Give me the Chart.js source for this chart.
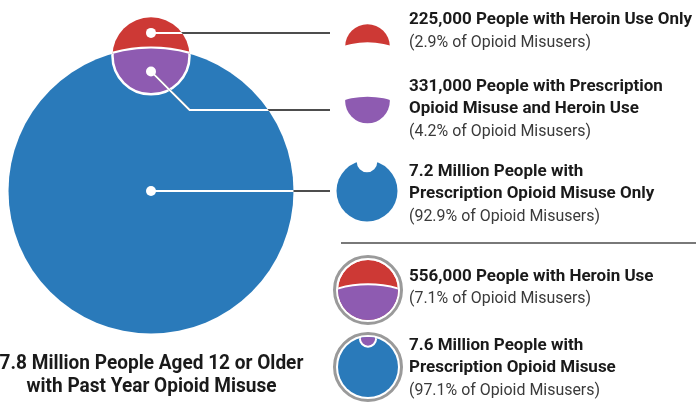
<!DOCTYPE html>
<html>
<head>
<meta charset="utf-8">
<script src="https://cdn.jsdelivr.net/npm/chart.js@4.4.1/dist/chart.umd.min.js"></script>
<style>
  html, body { margin: 0; padding: 0; background: #fff; }
  #wrap { position: relative; width: 696px; height: 403px; }
</style>
</head>
<body>
<div id="wrap"><canvas id="venn"></canvas></div>
<script>
// shares of past-year opioid misusers, in percent
const groupNames = ['Heroin Use Only', 'Prescription Opioid Misuse and Heroin Use', 'Prescription Opioid Misuse Only'];
const groupShares = [2.9, 4.2, 92.9];
const groupLabels = [
  ['225,000 People with Heroin Use Only'],
  ['331,000 People with Prescription', 'Opioid Misuse and Heroin Use'],
  ['7.2 Million People with', 'Prescription Opioid Misuse Only']
];
const totalShares = [7.1, 97.1];
const totalLabels = [
  ['556,000 People with Heroin Use'],
  ['7.6 Million People with', 'Prescription Opioid Misuse']
];
const overallLabel = ['7.8 Million People Aged 12 or Older', 'with Past Year Opioid Misuse'];

const RED = '#cd3935', PURPLE = '#8e5bb1', BLUE = '#2a7aba';
const LINE = '#4d4d4d', RING = '#9a9a9a';
const FONT = 'Roboto, "Liberation Sans", sans-serif';

// circle area follows the share, so radius = sqrt(share) in data units
const rBig = Math.sqrt(totalShares[1]);
const rSmall = Math.sqrt(totalShares[0]);

function overlapArea(d, R, r) {
  const a = r * r * Math.acos((d * d + r * r - R * R) / (2 * d * r));
  const b = R * R * Math.acos((d * d + R * R - r * r) / (2 * d * R));
  const c = 0.5 * Math.sqrt((-d + r + R) * (d + r - R) * (d - r + R) * (d + r + R));
  return a + b - c;
}

// distance between centres so that the overlap matches the shared group
function solveDistance() {
  const target = Math.PI * rSmall * rSmall * groupShares[1] / totalShares[0];
  let lo = rBig - rSmall + 1e-9, hi = rBig + rSmall - 1e-9;
  for (let i = 0; i < 80; i++) {
    const mid = (lo + hi) / 2;
    if (overlapArea(mid, rBig, rSmall) > target) lo = mid; else hi = mid;
  }
  return (lo + hi) / 2;
}
const dist = solveDistance();

// layout
const W = 696, H = 403;
const PX = 142.5 / rBig;       // pixels per data unit
const CX = 151, CY = 191;      // pixel spot of the big circle centre

function circle(ctx, x, y, r) {
  ctx.beginPath();
  ctx.arc(x, y, r, 0, Math.PI * 2);
}

// part of circle a that lies outside circle b
function fillOutside(ctx, ax, ay, ar, bx, by, br, color) {
  ctx.save();
  circle(ctx, ax, ay, ar);
  ctx.clip();
  ctx.beginPath();
  ctx.rect(0, 0, W, H);
  ctx.moveTo(bx + br, by);
  ctx.arc(bx, by, br, 0, Math.PI * 2);
  ctx.fillStyle = color;
  ctx.fill('evenodd');
  ctx.restore();
}

// text squeezed to the condensed width of the original type
function fitText(ctx, font, sample, target) {
  ctx.font = font;
  return target / ctx.measureText(sample).width;
}
function drawText(ctx, t, x, y, sx) {
  ctx.save();
  ctx.translate(x, y);
  ctx.scale(sx, 1);
  ctx.fillText(t, 0, 0);
  ctx.restore();
}

const vennPlugin = {
  id: 'venn',
  beforeDatasetDraw(chart, args) {
    if (args.index !== 0) return;
    // overlap part lives inside the big circle only
    const big = chart.getDatasetMeta(1).data[0];
    const ctx = chart.ctx;
    ctx.save();
    circle(ctx, big.x, big.y, big.options.radius);
    ctx.clip();
  },
  afterDatasetDraw(chart, args) {
    const ctx = chart.ctx;
    if (args.index === 0) {
      ctx.restore();
      return;
    }
    if (args.index === 1) {
      // white seam between the two heroin parts
      const big = chart.getDatasetMeta(1).data[0];
      const sm = chart.getDatasetMeta(2).data[0];
      ctx.save();
      circle(ctx, sm.x, sm.y, sm.options.radius);
      ctx.clip();
      circle(ctx, big.x, big.y, big.options.radius);
      ctx.strokeStyle = '#fff';
      ctx.lineWidth = 4;
      ctx.stroke();
      ctx.restore();
    }
  },
  afterDatasetsDraw(chart) {
    const ctx = chart.ctx;
    const big = chart.getDatasetMeta(1).data[0];
    const sm = chart.getDatasetMeta(2).data[0];
    const R = big.options.radius, r = sm.options.radius;

    const bigTop = big.y - R;
    const dots = [
      { x: sm.x, y: (sm.y - r + bigTop) / 2 },
      { x: sm.x, y: (bigTop + sm.y + r) / 2 },
      { x: big.x, y: big.y }
    ];
    const lineEnd = 330;
    const targetY = [dots[0].y, 110, dots[2].y];

    // leader lines: grey outside, white over the circles
    const paths = dots.map((p, i) => {
      const pts = [[p.x, p.y]];
      if (Math.abs(targetY[i] - p.y) > 0.5) {
        const dy = targetY[i] - p.y;
        pts.push([p.x + dy, targetY[i]]);
      }
      pts.push([lineEnd, targetY[i]]);
      return pts;
    });
    function strokePaths(color) {
      ctx.strokeStyle = color;
      ctx.lineWidth = 2;
      paths.forEach(pts => {
        ctx.beginPath();
        ctx.moveTo(pts[0][0], pts[0][1]);
        pts.slice(1).forEach(q => ctx.lineTo(q[0], q[1]));
        ctx.stroke();
      });
    }
    ctx.save();
    strokePaths(LINE);
    ctx.beginPath();
    ctx.arc(big.x, big.y, R, 0, Math.PI * 2);
    ctx.moveTo(sm.x + r, sm.y);
    ctx.arc(sm.x, sm.y, r, 0, Math.PI * 2);
    ctx.clip();
    strokePaths('#fff');
    ctx.restore();

    ctx.fillStyle = '#fff';
    dots.forEach(p => { circle(ctx, p.x, p.y, 5); ctx.fill(); });

    // legend icons, same geometry scaled down
    const iconX = 367.5;

    // heroin only
    let s = PX * 0.58;
    fillOutside(ctx, iconX, 46.6, rSmall * s, iconX, 46.6 + dist * s, rBig * s, RED);

    // both
    ctx.save();
    circle(ctx, iconX, 101, rSmall * s);
    ctx.clip();
    circle(ctx, iconX, 101 + dist * s, rBig * s);
    ctx.fillStyle = PURPLE;
    ctx.fill();
    ctx.restore();

    // prescription only
    s = 30.5 / rBig;
    fillOutside(ctx, iconX - 0.5, 191, rBig * s, iconX - 0.5, 191 - dist * s, rSmall * s + 2, BLUE);

    // totals with ring
    const ringX = 368;
    s = 30 / rSmall;
    let y0 = 290;
    ctx.save();
    circle(ctx, ringX, y0, rSmall * s);
    ctx.clip();
    ctx.fillStyle = RED;
    ctx.fill();
    circle(ctx, ringX, y0 + dist * s, rBig * s);
    ctx.fillStyle = PURPLE;
    ctx.fill();
    ctx.strokeStyle = '#fff';
    ctx.lineWidth = 2;
    ctx.stroke();
    ctx.restore();
    circle(ctx, ringX, y0, 33.5);
    ctx.strokeStyle = RING;
    ctx.lineWidth = 3;
    ctx.stroke();

    s = 30 / rBig;
    y0 = 367;
    ctx.save();
    circle(ctx, ringX, y0, rBig * s);
    ctx.fillStyle = BLUE;
    ctx.fill();
    ctx.clip();
    circle(ctx, ringX, y0 - dist * s, rSmall * s);
    ctx.fillStyle = PURPLE;
    ctx.fill();
    ctx.strokeStyle = '#fff';
    ctx.lineWidth = 2;
    ctx.stroke();
    ctx.restore();
    circle(ctx, ringX, y0, 33.5);
    ctx.strokeStyle = RING;
    ctx.lineWidth = 3;
    ctx.stroke();

    // divider
    ctx.beginPath();
    ctx.moveTo(341, 243);
    ctx.lineTo(W, 243);
    ctx.strokeStyle = LINE;
    ctx.lineWidth = 1.5;
    ctx.stroke();

    // labels
    const boldFont = 'bold 17px ' + FONT, normFont = '17px ' + FONT;
    const sxBold = fitText(ctx, boldFont, groupLabels[0][0], 283);
    const sxNorm = fitText(ctx, normFont, '(92.9% of Opioid Misusers)', 191);
    const textX = 409, step = 22.7;
    ctx.textAlign = 'left';
    ctx.textBaseline = 'alphabetic';
    function block(lines, share, y) {
      ctx.fillStyle = '#1a1a1a';
      ctx.font = boldFont;
      lines.forEach((t, i) => drawText(ctx, t, textX, y + i * step, sxBold));
      ctx.fillStyle = '#3a3a3a';
      ctx.font = normFont;
      drawText(ctx, '(' + share + '% of Opioid Misusers)', textX, y + lines.length * step, sxNorm);
    }
    [24, 90.5, 175.5].forEach((y, i) => block(groupLabels[i], groupShares[i], y));
    [280.5, 349.5].forEach((y, i) => block(totalLabels[i], totalShares[i], y));

    const titleFont = 'bold 20px ' + FONT;
    const sxTitle = fitText(ctx, titleFont, overallLabel[1], 250);
    ctx.textAlign = 'center';
    ctx.fillStyle = '#1a1a1a';
    ctx.font = titleFont;
    overallLabel.forEach((t, i) => drawText(ctx, t, 151.5, 368.5 + i * 23.4, sxTitle));
  }
};

new Chart(document.getElementById('venn'), {
  type: 'bubble',
  data: {
    datasets: [
      {
        label: groupNames[1],
        data: [{ x: 0, y: dist, r: rSmall * PX }],
        backgroundColor: PURPLE,
        borderColor: '#fff',
        borderWidth: 2.5,
        order: 0
      },
      {
        label: 'Prescription Opioid Misuse',
        data: [{ x: 0, y: 0, r: rBig * PX }],
        backgroundColor: BLUE,
        borderWidth: 0,
        order: 1
      },
      {
        label: 'Heroin Use',
        data: [{ x: 0, y: dist, r: rSmall * PX }],
        backgroundColor: RED,
        borderWidth: 0,
        order: 2
      }
    ]
  },
  options: {
    responsive: true,
    maintainAspectRatio: false,
    animation: false,
    events: [],
    layout: { padding: 0, autoPadding: false },
    plugins: { legend: { display: false }, tooltip: { enabled: false } },
    scales: {
      x: { type: 'linear', display: false, min: -CX / PX, max: (W - CX) / PX },
      y: { type: 'linear', display: false, min: -(H - CY) / PX, max: CY / PX }
    }
  },
  plugins: [vennPlugin]
});
</script>
</body>
</html>
